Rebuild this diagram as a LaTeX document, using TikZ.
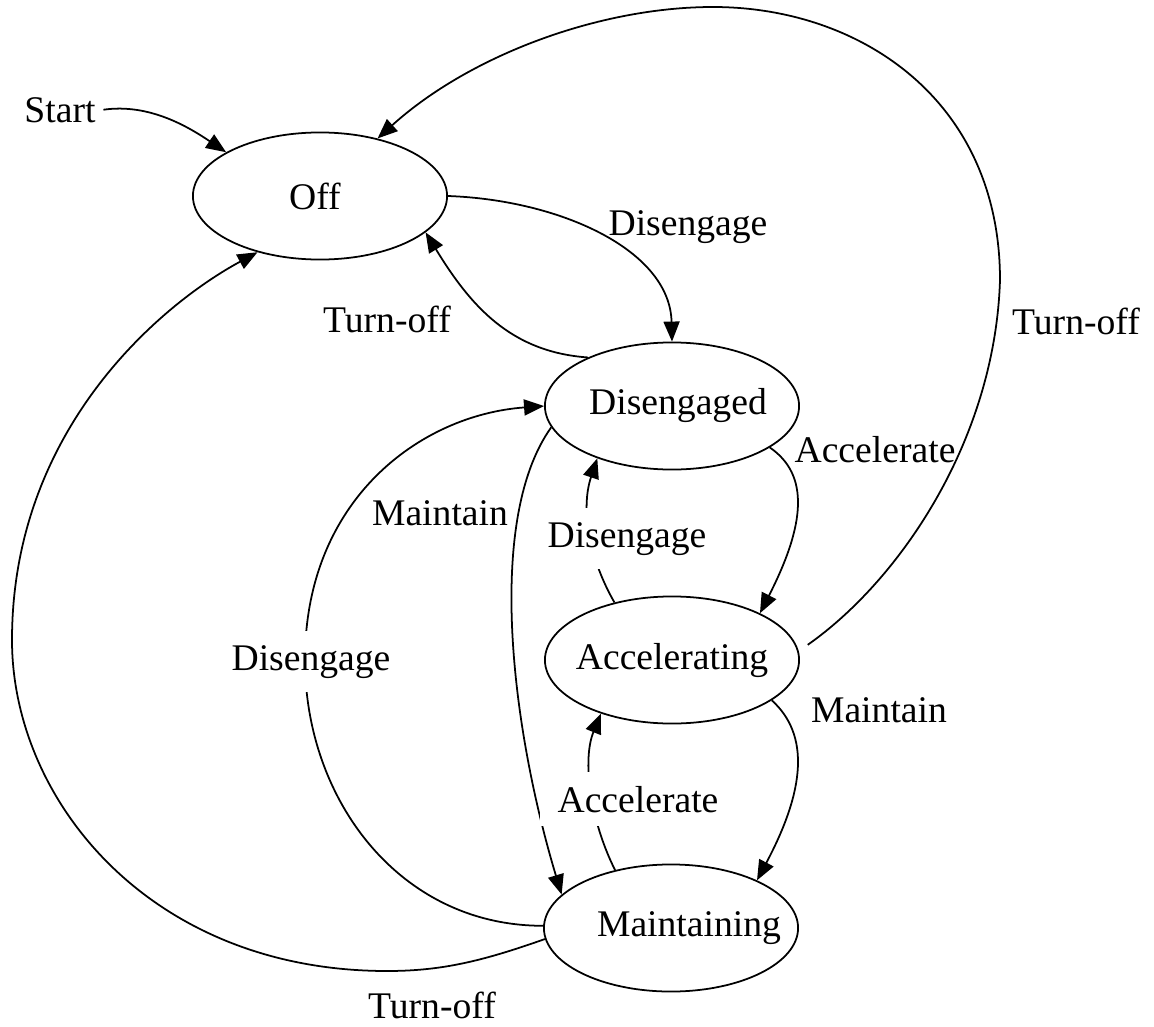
\documentclass[tikz,border=0pt]{standalone}
\usepackage{fontspec}
\setmainfont{Liberation Serif}
\usetikzlibrary{arrows.meta}
\usetikzlibrary{shapes.geometric}
\tikzset{>={Triangle[length=0.2cm,width=0.16cm]}}

\begin{document}
\begin{tikzpicture}[x=0.01cm, y=-0.01cm, line width=0.5pt,
        font=\fontsize{10.7}{13}\selectfont,
        state/.style={draw, ellipse, minimum width=2.54cm, minimum height=1.27cm, inner sep=0pt},
        lbl/.style={anchor=base, inner sep=2pt},
        gaplbl/.style={lbl, fill=white, inner xsep=5pt, inner ysep=4pt}]
        \useasboundingbox (0,0) rectangle (1154,1027);
        \node [state, label={[xshift=-0.05cm]center:Off}] (Off) at (320,196) {};
        \node [state, label={[xshift=0.06cm]center:Disengaged}] (Disengaged) at (672,406) {};
        \node [state, label={center:Accelerating}] (Accelerating) at (672,660) {};
        \node [state, label={[xshift=0.18cm]center:Maintaining}] (Maintaining) at (671,928) {};
        \node [lbl] (Start) at (60,122) {Start};

        \draw [->] (Start.east) .. controls (150,103) and (190,128) .. (Off.155);
        \draw [->] (Off.east) .. controls (560,200) and (670,250) .. (Disengaged.north);
        \draw [->] (Disengaged.150) .. controls (510,352) and (470,305) .. (Off.-19);
        \draw [->, shorten <=0.11cm] (Accelerating.4) .. controls (900,580) and (995,440) .. (1000,280)
            .. controls (1000,100) and (860,7) .. (713,7) .. controls (600,7) and (470,55) .. (Off.45);
        \draw [->] (Disengaged.-23) .. controls (810,475) and (805,525) .. (Accelerating.28);
        \draw [->] (Accelerating.-22) .. controls (810,735) and (805,790) .. (Maintaining.29);
        \draw [->] (Accelerating.135) .. controls (590,560) and (580,510) .. (Disengaged.-145);
        \draw [->] (Maintaining.134) .. controls (590,820) and (582,760) .. (Accelerating.-143);
        \draw [->] (Disengaged.-170) .. controls (485,520) and (512,730) .. (Maintaining.163);
        \draw [->] (Maintaining.179) .. controls (400,926) and (305,800) .. (305,660)
            .. controls (305,500) and (420,415) .. (Disengaged.west);
        \draw [->] (Maintaining.-175) .. controls (480,962) and (440,971) .. (387,971)
            .. controls (150,971) and (12,800) .. (12,640) .. controls (12,430) and (160,305) .. (Off.-138);

        \node [lbl] (DisengageTop) at (688,235) {Disengage};
        \node [lbl] (TurnOffLeft) at (387,332) {Turn-off};
        \node [lbl] (AccelerateRight) at (875,462) {Accelerate};
        \node [lbl] (TurnOffRight) at (1076,334) {Turn-off};
        \node [lbl] (MaintainRight) at (879,722) {Maintain};
        \node [lbl] (MaintainLeft) at (440,525) {Maintain};
        \node [gaplbl] (DisengageMid) at (627,547) {Disengage};
        \node [gaplbl] (AccelerateMid) at (638,812) {Accelerate};
        \node [gaplbl] (DisengageLeft) at (311,670) {Disengage};
        \node [lbl] (TurnOffBottom) at (432,1018) {Turn-off};
    \end{tikzpicture}
\end{document}
